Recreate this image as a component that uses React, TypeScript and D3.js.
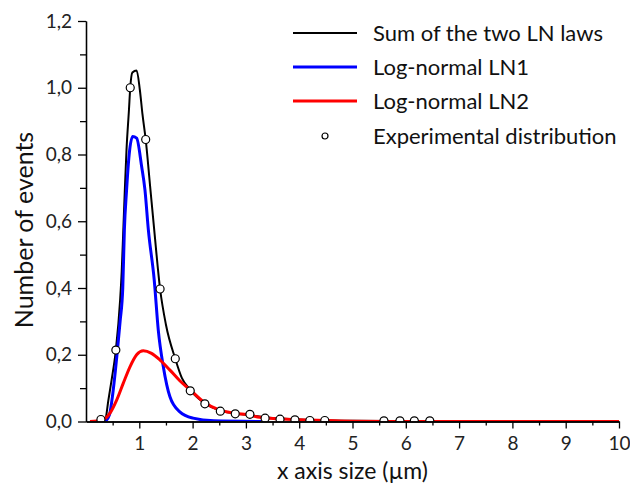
import React, { useEffect, useRef } from 'react'
import * as d3 from 'd3'

// values (x in µm, y in events)
const sumX = [0.30, 0.36, 0.42, 0.48, 0.56, 0.64, 0.67, 0.70, 0.73, 0.76, 0.806, 0.83, 0.87, 0.95, 1.01, 1.06, 1.12, 1.20, 1.28, 1.39, 1.50, 1.675, 1.80, 1.956, 2.10, 2.23, 2.52, 2.80, 3.075, 3.40, 4.0, 5.0, 6.0, 10]
const sumY = [0.0, 0.005, 0.064, 0.124, 0.214, 0.364, 0.45, 0.574, 0.70, 0.814, 0.934, 1.0, 1.046, 1.052, 0.994, 0.92, 0.845, 0.71, 0.574, 0.397, 0.29, 0.188, 0.13, 0.095, 0.07, 0.054, 0.033, 0.024, 0.019, 0.012, 0.006, 0.002, 0.001, 0.0]

const ln1X = [0.36, 0.44, 0.50, 0.55, 0.59, 0.64, 0.69, 0.72, 0.76, 0.81, 0.875, 0.95, 1.044, 1.106, 1.17, 1.28, 1.356, 1.45, 1.575, 1.76, 2.01, 2.4, 3.3]
const ln1Y = [0.0, 0.02, 0.08, 0.15, 0.214, 0.30, 0.40, 0.574, 0.69, 0.80, 0.854, 0.849, 0.764, 0.694, 0.574, 0.424, 0.274, 0.165, 0.074, 0.029, 0.01, 0.002, 0.0]

const ln2X = [0.075, 0.3, 0.45, 0.575, 0.70, 0.825, 0.95, 1.075, 1.23, 1.39, 1.575, 1.76, 1.96, 2.23, 2.51, 2.79, 3.075, 3.26, 3.6, 4.0, 4.5, 5.0, 6.0, 10]
const ln2Y = [0.0, 0.004, 0.025, 0.064, 0.115, 0.164, 0.20, 0.212, 0.204, 0.184, 0.154, 0.122, 0.094, 0.056, 0.034, 0.025, 0.019, 0.0125, 0.008, 0.005, 0.003, 0.001, 0.0, 0.0]

const expX = [0.28, 0.56, 0.83, 1.12, 1.39, 1.675, 1.956, 2.23, 2.52, 2.80, 3.075, 3.36, 3.64, 3.92, 4.20, 4.48, 5.59, 5.89, 6.16, 6.45]
const expY = [0.006, 0.214, 1.0, 0.845, 0.397, 0.188, 0.092, 0.053, 0.031, 0.023, 0.0215, 0.01, 0.007, 0.005, 0.003, 0.003, 0.002, 0.002, 0.002, 0.002]

const legendLabels = ['Sum of the two LN laws', 'Log-normal LN1', 'Log-normal LN2', 'Experimental distribution']
const COLORS = ['#000000', '#0000ff', '#ff0000']

const FONT = 'Lato, "Open Sans", sans-serif'
const width = 630
const height = 489
const margin = { left: 86, right: 11, top: 21, bottom: 67.5 }

const App = () => {
  const xAxisRef = useRef<SVGGElement>(null)
  const yAxisRef = useRef<SVGGElement>(null)
  const xMinorRef = useRef<SVGGElement>(null)
  const yMinorRef = useRef<SVGGElement>(null)

  const x = d3.scaleLinear().domain([0, 10]).range([margin.left, width - margin.right])
  const y = d3.scaleLinear().domain([0, 1.2]).range([height - margin.bottom, margin.top])

  useEffect(() => {
    const fmt = (d: number) => d3.format('.1f')(d).replace('.', ',')
    d3.select(xAxisRef.current)
      .call(d3.axisBottom(x).tickValues(d3.range(1, 11)).tickSize(7).tickSizeOuter(0).tickPadding(8).tickFormat(d3.format('d')))
    d3.select(xMinorRef.current)
      .call(d3.axisBottom(x).tickValues(d3.range(0.5, 10, 1)).tickSize(4).tickSizeOuter(0).tickFormat(() => ''))
    d3.select(yAxisRef.current)
      .call(d3.axisLeft(y).tickValues(d3.range(0, 1.21, 0.2)).tickSize(8).tickSizeOuter(0).tickPadding(6).tickFormat(fmt as any))
    d3.select(yMinorRef.current)
      .call(d3.axisLeft(y).tickValues(d3.range(0.1, 1.2, 0.2)).tickSize(6).tickSizeOuter(0).tickFormat(() => ''))
    ;[xAxisRef, yAxisRef, xMinorRef, yMinorRef].forEach(r => {
      const g = d3.select(r.current)
      g.selectAll('path.domain').attr('stroke', '#000').attr('stroke-width', 1.3)
      g.selectAll('line').attr('stroke', '#000').attr('stroke-width', 1.3)
      g.selectAll('text').attr('font-family', FONT).attr('font-size', 19).attr('fill', '#222')
    })
  }, [])

  const line = d3.line<number>().curve(d3.curveMonotoneX)
  const path = (xs: number[], ys: number[]) =>
    line.x((_, i) => x(xs[i])).y((_, i) => y(ys[i]))(xs)

  const legendX = 293
  const legendY = [33, 67, 101, 136]

  return (
    <svg width={width} height={height} style={{ position: 'absolute', left: 0, top: 0 }}>
      <defs>
        <clipPath id="plot-clip">
          <rect x={margin.left - 6} y={margin.top - 10} width={width - margin.left - margin.right + 6} height={height - margin.top - margin.bottom + 10} />
        </clipPath>
      </defs>
      <g clipPath="url(#plot-clip)">
        <path d={path(sumX, sumY) || ''} fill="none" stroke={COLORS[0]} strokeWidth={2} />
        <path d={path(ln1X, ln1Y) || ''} fill="none" stroke={COLORS[1]} strokeWidth={3} />
        <path d={path(ln2X, ln2Y) || ''} fill="none" stroke={COLORS[2]} strokeWidth={3} />
        {expX.map((d, i) => (
          <circle key={i} cx={x(d)} cy={y(expY[i])} r={4} fill="#fff" stroke="#000" strokeWidth={1.2} />
        ))}
      </g>
      <g ref={xMinorRef} transform={`translate(0,${y(0)})`} />
      <g ref={yMinorRef} transform={`translate(${x(0)},0)`} />
      <g ref={xAxisRef} transform={`translate(0,${y(0)})`} />
      <g ref={yAxisRef} transform={`translate(${x(0)},0)`} />
      <text x={(x(0) + x(10)) / 2} y={479} textAnchor="middle" fontFamily={FONT} fontSize={23} fill="#111">
        x axis size (µm)
      </text>
      <text
        transform={`translate(33,230) rotate(-90)`}
        textAnchor="middle"
        fontFamily={FONT}
        fontSize={25}
        fill="#111"
      >
        Number of events
      </text>
      <g>
        {legendLabels.map((label, i) => (
          <g key={label} transform={`translate(${legendX},${legendY[i]})`}>
            {i < 3 ? (
              <line x1={0} x2={64} y1={0} y2={0} stroke={COLORS[i]} strokeWidth={i === 0 ? 2 : 3} />
            ) : (
              <circle cx={32} cy={0} r={3} fill="#fff" stroke="#000" strokeWidth={1.2} />
            )}
            <text x={80} y={0} dy="0.35em" fontFamily={FONT} fontSize={22} fill="#111">
              {label}
            </text>
          </g>
        ))}
      </g>
    </svg>
  )
}

export default App
